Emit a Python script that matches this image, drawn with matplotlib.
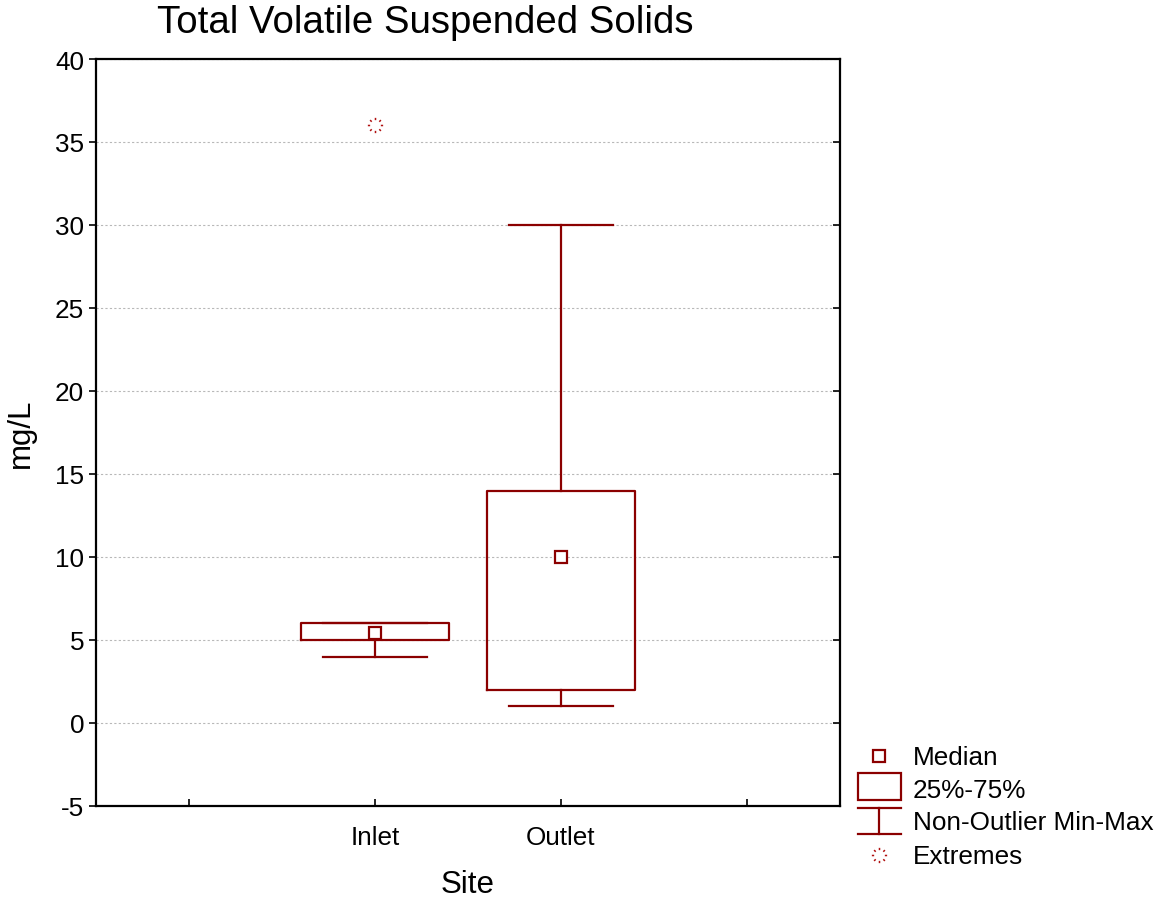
import numpy as np
import matplotlib
matplotlib.use("Agg")
import matplotlib.pyplot as plt
from matplotlib.path import Path
from matplotlib.patches import Rectangle

plt.rcParams['font.family'] = ['Liberation Sans', 'DejaVu Sans']
plt.rcParams['axes.unicode_minus'] = False

# data
sites = ["Inlet", "Outlet"]
medians = [5.4, 10.0]
q1 = [5.0, 2.0]
q3 = [6.0, 14.0]
whis_lo = [4.0, 1.0]
whis_hi = [6.0, 30.0]
extremes = [[36.0], []]

DARK = "#8b0000"
W, H = 1159, 903

# dotted "starburst" marker used for the extremes
verts, codes = [], []
for a in np.arange(8) * np.pi / 4:
    c, s = np.cos(a), np.sin(a)
    verts += [(0.7 * c, 0.7 * s), (1.0 * c, 1.0 * s)]
    codes += [Path.MOVETO, Path.LINETO]
star = Path(verts, codes)

fig = plt.figure(figsize=(W / 100, H / 100), dpi=100)
ax = fig.add_axes([96 / W, 1 - 807 / H, 744 / W, 747 / H])

positions = [1.5, 2.5]
stats = []
for i, name in enumerate(sites):
    stats.append(dict(label=name, med=medians[i], mean=medians[i],
                      q1=q1[i], q3=q3[i], whislo=whis_lo[i], whishi=whis_hi[i],
                      fliers=extremes[i]))

ax.bxp(stats, positions=positions, widths=0.8, capwidths=0.56,
       showmeans=True, showfliers=True, manage_ticks=False,
       boxprops=dict(color=DARK, linewidth=1.6),
       whiskerprops=dict(color=DARK, linewidth=1.6),
       capprops=dict(color=DARK, linewidth=1.6),
       medianprops=dict(linewidth=0),
       meanprops=dict(marker="s", markersize=9, markerfacecolor="white",
                      markeredgecolor=DARK, markeredgewidth=1.6),
       flierprops=dict(marker=star, markersize=11, markeredgecolor="#b01010",
                       markeredgewidth=1.1, markerfacecolor="none"))

ax.set_xlim(0, 4)
ax.set_ylim(-5, 40)
ax.set_yticks(np.arange(-5, 41, 5))
ax.set_xticks([0.5, 1.5, 2.5, 3.5])
ax.set_xticklabels(["", "Inlet", "Outlet", ""])
ax.tick_params(axis="x", direction="in", length=5, width=1.2, labelsize=18.8, pad=14)
ax.tick_params(axis="y", direction="out", length=5, width=1.2, labelsize=18.8,
               right=True)
for t in ax.yaxis.get_major_ticks():
    t.tick2line.set_marker(matplotlib.lines.TICKLEFT)
ax.yaxis.grid(True, color="#b8b8b8", linestyle=(0, (2, 2)), linewidth=0.8)
ax.set_axisbelow(True)
for sp in ax.spines.values():
    sp.set_linewidth(1.6)

ax.set_xlabel("Site", fontsize=22.5, labelpad=14)
ax.set_ylabel("mg/L", fontsize=22.5, labelpad=14)
fig.text(425 / W, 1 - 23 / H, "Total Volatile Suspended Solids", fontsize=27.6,
         ha="center", va="center")

# legend drawn in its own small axes, pixel units
lg = fig.add_axes([840 / W, 1 - 880 / H, 319 / W, 140 / H])
lg.set_xlim(840, 1159)
lg.set_ylim(880, 740)
lg.axis("off")
lg.plot([879], [757], marker="s", markersize=9, markerfacecolor="white",
        markeredgecolor=DARK, markeredgewidth=1.6)
lg.add_patch(Rectangle((858, 774), 43, 27, fill=False, edgecolor=DARK, linewidth=1.6))
lg.plot([858, 901], [809, 809], color=DARK, linewidth=1.6)
lg.plot([858, 901], [835, 835], color=DARK, linewidth=1.6)
lg.plot([879, 879], [809, 835], color=DARK, linewidth=1.6)
lg.plot([879], [856], marker=star, markersize=11, markeredgecolor="#b01010",
        markeredgewidth=1.1, markerfacecolor="none")
labels = ["Median", "25%-75%", "Non-Outlier Min-Max", "Extremes"]
for lab, yy in zip(labels, [758, 791, 823, 857]):
    lg.text(913, yy, lab, fontsize=18.8, va="center", ha="left")

fig.savefig("out.png", dpi=100)
